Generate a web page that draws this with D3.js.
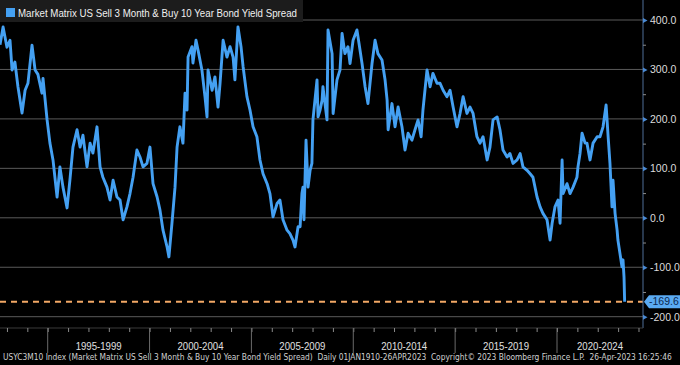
<!DOCTYPE html>
<html><head><meta charset="utf-8">
<script src="https://cdn.jsdelivr.net/npm/d3@7"></script>
<style>html,body{margin:0;padding:0;background:#000;}svg{display:block}</style>
</head><body><svg id="c" width="680" height="365"></svg>
<script>
// ---- data ----
const years = [
1992.66,1992.81,1993.00,1993.15,1993.25,1993.39,1993.54,1993.74,1993.89,1994.03,1994.23,1994.38,1994.52,1994.72,1994.77,1994.97,
1995.11,1995.26,1995.46,1995.60,1995.75,1995.95,1996.09,1996.24,1996.44,1996.59,1996.73,1996.93,1997.08,1997.22,1997.42,1997.57,1997.71,1997.91,1998.06,1998.21,1998.40,1998.55,1998.70,1998.89,1999.04,1999.19,1999.38,1999.53,1999.68,1999.87,
2000.02,2000.17,2000.37,2000.51,2000.66,2000.86,2000.95,2001.10,2001.25,2001.35,2001.49,2001.64,2001.74,2001.84,2001.89,2002.08,2002.13,2002.28,2002.38,2002.57,2002.72,2002.82,2002.87,2003.07,2003.21,2003.36,2003.46,2003.61,2003.80,2003.95,2004.10,2004.19,2004.34,2004.49,2004.59,2004.78,2004.93,
2005.08,2005.27,2005.42,2005.57,2005.77,2005.91,2006.06,2006.26,2006.40,2006.55,2006.75,2006.89,2007.04,2007.14,2007.29,2007.39,2007.48,2007.53,2007.58,2007.68,2007.78,2007.88,2007.97,2008.02,2008.22,2008.27,2008.37,2008.47,2008.51,2008.71,2008.76,2008.96,2009.01,2009.20,2009.35,2009.45,2009.59,2009.74,2009.84,2009.99,
2010.18,2010.28,2010.43,2010.58,2010.72,2010.92,2011.07,2011.21,2011.41,2011.56,2011.66,2011.71,2011.90,2012.05,2012.20,2012.39,2012.54,2012.69,2012.88,2013.03,2013.18,2013.33,2013.42,2013.62,2013.77,2013.91,2014.11,2014.26,2014.41,2014.60,2014.75,2014.90,
2015.09,2015.24,2015.39,2015.58,2015.73,2015.88,2016.07,2016.22,2016.37,2016.57,2016.71,2016.86,2017.06,2017.20,2017.35,2017.55,2017.69,2017.84,2018.04,2018.19,2018.33,2018.53,2018.68,2018.82,2019.02,2019.17,2019.31,2019.51,2019.66,2019.76,2019.90,
2020.05,2020.15,2020.25,2020.30,2020.49,2020.64,2020.79,2020.98,2021.03,2021.13,2021.23,2021.38,2021.47,2021.62,2021.77,2021.97,2022.11,2022.26,2022.41,2022.51,2022.60,2022.70,2022.75,2022.85,2022.95,2022.99,2023.09,2023.19,2023.24,2023.29,2023.32
];
const spread = [
350,386,345,359,299,315,265,212,258,272,349,299,290,252,282,198,
151,117,42,103,62,20,76,143,178,143,167,103,151,131,184,103,82,62,36,76,42,36,-4,22,49,82,137,123,103,110,
143,69,42,16,-25,-59,-79,-11,62,143,184,151,252,218,325,346,313,359,339,299,245,204,299,258,285,224,272,359,325,346,325,279,386,346,306,245,218,
184,164,117,89,69,49,2,29,36,-4,-25,-32,-45,-59,-18,-18,49,62,-4,157,62,96,110,198,279,204,218,238,265,198,380,332,211,279,299,373,332,346,312,359,
380,353,312,265,231,312,359,332,319,279,238,178,231,184,224,184,137,171,157,178,198,164,218,299,265,292,272,272,258,245,258,224,
184,211,245,211,224,211,164,151,164,117,143,198,204,178,137,123,130,110,117,130,103,96,89,82,42,22,9,-4,-45,-11,22,
36,-11,117,49,69,49,62,82,103,130,171,151,151,117,151,164,164,184,228,164,110,22,76,9,-25,-45,-72,-99,-85,-120,-169.6
];
const lastValue = -169.6;
const yTickValues = [-200, -100, 0, 100, 200, 300, 400];
const yMinorValues = [-150, -50, 50, 150, 250, 350];
const yearTicks = d3.range(1993, 2025);
const periodStarts = [1995, 2000, 2005, 2010, 2015, 2020];
const periodLabels = ["1995-1999", "2000-2004", "2005-2009", "2010-2014", "2015-2019", "2020-2024"];
const legendLabel = "Market Matrix US Sell 3 Month & Buy 10 Year Bond Yield Spread";
const footerText = "USYC3M10 Index (Market Matrix US Sell 3 Month & Buy 10 Year Bond Yield Spread)  Daily 01JAN1910-26APR2023  Copyright\u00A9 2023 Bloomberg Finance L.P.  26-Apr-2023 16:25:46";

// ---- layout ----
const W = 680, H = 365;
const plotL = 0, plotR = 643, plotT = 20, plotB = 316.7, axisY = 328;
const lineColor = "#44a0f2";
const font = "'Liberation Sans', Arial, sans-serif";

const svg = d3.select("#c");
svg.append("rect").attr("width", W).attr("height", H).attr("fill", "#000");

const x = d3.scaleLinear().domain([1995, 2020]).range([47.7, 557]);
const y = d3.scaleLinear().domain([-200, 400]).range([plotB, plotT]);

// grid
svg.append("g").selectAll("line").data(yTickValues).join("line")
  .attr("x1", plotL).attr("x2", plotR)
  .attr("y1", d => y(d)).attr("y2", d => y(d))
  .attr("stroke", "#5a5a5a").attr("stroke-width", 1);

// clip
svg.append("clipPath").attr("id", "clip").append("rect")
  .attr("x", plotL).attr("y", 0).attr("width", plotR - plotL).attr("height", axisY);

// dashed last value line
svg.append("line").attr("x1", plotL).attr("x2", plotR)
  .attr("y1", y(lastValue)).attr("y2", y(lastValue))
  .attr("stroke", "#f2a865").attr("stroke-width", 2).attr("stroke-dasharray", "6,5");

// series
const pts = years.map((t, i) => [t, spread[i]]).filter(d => d[1] !== undefined);
svg.append("path").datum(pts)
  .attr("clip-path", "url(#clip)")
  .attr("d", d3.line().x(d => x(d[0])).y(d => y(d[1])))
  .attr("fill", "none").attr("stroke", lineColor).attr("stroke-width", 2.9)
  .attr("stroke-linejoin", "round");

// right axis
const ra = svg.append("g").attr("transform", `translate(${plotR},0)`);
ra.append("line").attr("x1", 0).attr("x2", 0).attr("y1", 0).attr("y2", axisY)
  .attr("stroke", "#4f6f98").attr("stroke-width", 1);
const minorAxis = d3.axisRight(y).tickValues(yMinorValues).tickSize(3).tickFormat("");
ra.append("g").call(minorAxis).call(g => {
  g.select(".domain").remove();
  g.selectAll("line").attr("stroke", "#8a8a8a");
});
const majorAxis = d3.axisRight(y).tickValues(yTickValues).tickSize(0).tickPadding(7)
  .tickFormat(d => d.toFixed(1));
ra.append("g").call(majorAxis).call(g => {
  g.select(".domain").remove();
  g.selectAll("text").attr("fill", "#dcdcdc").attr("font-size", 10.5).attr("font-family", font);
  g.selectAll(".tick").append("path").attr("d", "M0,-2.5L4.5,0L0,2.5Z").attr("fill", "#4a8ad4");
});

// last value tag
const ty = y(lastValue);
svg.append("path")
  .attr("d", `M${plotR + 1},${ty} L${plotR + 6},${ty - 6.5} L${W},${ty - 6.5} L${W},${ty + 6.5} L${plotR + 6},${ty + 6.5} Z`)
  .attr("fill", "#5aaaf2");
svg.append("text").attr("x", plotR + 6).attr("y", ty).attr("dy", "0.36em")
  .attr("fill", "#0c2850").attr("font-size", 10.5).attr("font-family", font)
  .text(lastValue.toFixed(1));

// bottom axis
svg.append("line").attr("x1", plotL).attr("x2", plotR).attr("y1", axisY).attr("y2", axisY)
  .attr("stroke", "#3a3a3a");
const bottomAxis = d3.axisBottom(x).tickValues(yearTicks).tickSize(4).tickFormat("");
svg.append("g").attr("transform", `translate(0,${axisY})`).call(bottomAxis).call(g => {
  g.select(".domain").remove();
  g.selectAll("line").attr("stroke", "#8a8a8a");
});
svg.append("g").selectAll("line").data(periodStarts).join("line")
  .attr("x1", d => x(d)).attr("x2", d => x(d))
  .attr("y1", axisY).attr("y2", 353)
  .attr("stroke", "#6a6a6a");
svg.append("g").selectAll("text").data(periodStarts).join("text")
  .attr("x", d => (x(d) + Math.min(x(d + 5), plotR)) / 2)
  .attr("y", 349.5).attr("text-anchor", "middle")
  .attr("fill", "#e0e0e0").attr("font-size", 11).attr("font-family", font)
  .attr("textLength", 46).attr("lengthAdjust", "spacingAndGlyphs")
  .text((d, i) => periodLabels[i]);

// footer: size the font so the natural width fits the page
const footer = svg.append("text").attr("x", 3).attr("y", 360)
  .attr("fill", "#d0d0d0").attr("font-family", "'Liberation Sans Narrow', 'DejaVu Sans Condensed', 'Liberation Sans', sans-serif")
  .attr("font-size", 9)
  .style("white-space", "pre")
  .text(footerText);
const natural = footer.node().getComputedTextLength();
footer.attr("font-size", Math.min(10, 9 * 670 / natural));

// legend
svg.append("rect").attr("x", 0).attr("y", 0).attr("width", 303).attr("height", 22).attr("fill", "#1c1c1c");
svg.append("rect").attr("x", 6).attr("y", 8).attr("width", 9).attr("height", 9).attr("fill", lineColor);
svg.append("text").attr("x", 18).attr("y", 16.8)
  .attr("fill", "#f0f0f0").attr("font-size", 10.5).attr("font-family", font)
  .attr("textLength", 279).attr("lengthAdjust", "spacingAndGlyphs")
  .text(legendLabel);
</script>
</body></html>
